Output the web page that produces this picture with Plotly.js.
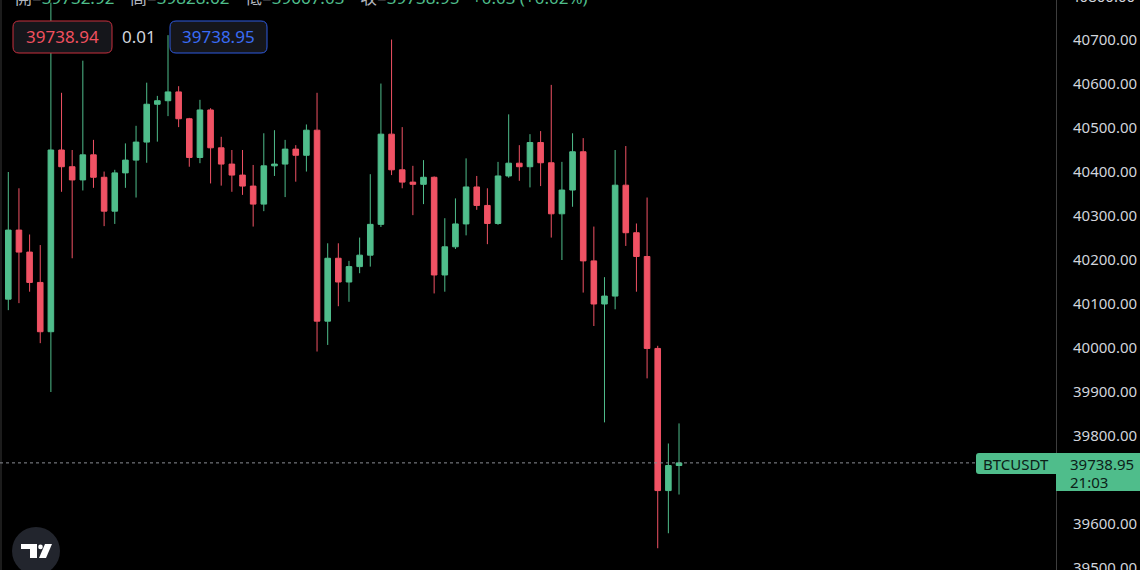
<!DOCTYPE html>
<html><head><meta charset="utf-8">
<script src="https://cdn.plot.ly/plotly-3.0.1.min.js"></script>
<style>html,body{margin:0;padding:0;background:#000;overflow:hidden}</style>
</head><body><div id="chart" style="width:1140px;height:570px"></div>
<script>
// ---- data ----
const opens  = [40111,40268,40218,40149,40037,40450,40412,40382,40439,40388,40311,40398,40427,40468,40554,40562,40582,40521,40433,40541,40455,40418,40393,40368,40327,40414,40418,40452,40438,40495,40061,40204,40150,40185,40211,40281,40486,40405,40377,40372,40388,40166,40230,40282,40366,40324,40283,40391,40420,40412,40467,40421,40305,40359,40446,40198,40100,40118,40370,40262,40208,39999,39676,39732.92];
const highs  = [40400,40363,40258,40234,40785,40580,40450,40653,40473,40401,40405,40465,40505,40603,40573,40711,40595,40523,40564,40545,40480,40450,40450,40416,40488,40495,40473,40461,40508,40580,40238,40238,40198,40251,40395,40601,40701,40502,40414,40427,40390,40295,40340,40431,40391,40363,40423,40531,40461,40486,40493,40598,40423,40488,40477,40276,40161,40450,40459,40283,40342,40005,39783,39828.62];
const lows   = [40086,40102,40128,40011,39900,40355,40204,40358,40364,40277,40282,40364,40342,40421,40469,40527,40502,40412,40420,40374,40369,40355,40348,40276,40311,40391,40343,40378,40401,39992,40007,40095,40105,40170,40185,40275,40393,40363,40302,40327,40124,40128,40225,40256,40314,40236,40280,40387,40380,40365,40368,40251,40200,40321,40126,40050,39831,40088,40232,40128,39931,39545,39579,39667.03];
const closes = [40268,40218,40149,40037,40450,40412,40382,40439,40388,40311,40398,40427,40468,40554,40562,40582,40521,40433,40541,40455,40418,40393,40368,40327,40414,40418,40452,40438,40495,40061,40204,40150,40185,40211,40281,40486,40405,40377,40372,40388,40166,40230,40282,40366,40324,40283,40391,40420,40412,40467,40421,40305,40359,40446,40198,40100,40118,40370,40262,40208,39999,39676,39732.92,39738.95];
const yTicks = [39500,39600,39800,39900,40000,40100,40200,40300,40400,40500,40600,40700];
const yTickAbove = 40800;
const symbol = 'BTCUSDT';
const lastPrice = 39738.95;
const countdown = '21:03';
const bidPrice = 39738.94, askPrice = 39738.95, spread = 0.01;
const headerLabels = ['開','高','低','收'];
const headerValues = [39732.92, 39828.62, 39667.03, 39738.95];
const change = 0.03, changePct = 0.02;

// ---- style / geometry ----
const GREEN = '#4fbd8b', RED = '#f05264';
const PW = 1056, PH = 570;
const Y0 = 39495.5, Y1 = 40790.9;
const FONT = 'Noto Sans, Noto Sans CJK TC, sans-serif';
const px = x => x / PW, py = y => 1 - y / PH;
const P = (x, y) => `${px(x)},${py(y)}`;
function rr(x0, y0, x1, y1, r) {
  return `M${P(x0+r,y0)} L${P(x1-r,y0)} Q${P(x1,y0)} ${P(x1,y0+r)} L${P(x1,y1-r)} Q${P(x1,y1)} ${P(x1-r,y1)} L${P(x0+r,y1)} Q${P(x0,y1)} ${P(x0,y1-r)} L${P(x0,y0+r)} Q${P(x0,y0)} ${P(x0+r,y0)} Z`;
}
const idx = opens.map((_, i) => i);

const trace = {
  type: 'candlestick', x: idx, open: opens, high: highs, low: lows, close: closes,
  increasing: {line: {color: GREEN, width: 1}, fillcolor: GREEN},
  decreasing: {line: {color: RED, width: 1}, fillcolor: RED},
  whiskerwidth: 0, hoverinfo: 'skip', showlegend: false
};

const shapes = [
  {type:'line', xref:'paper', yref:'paper', x0:px(1), x1:px(1), y0:0, y1:1, line:{color:'#1c1c1c', width:2}},
  {type:'line', xref:'paper', yref:'y', x0:0, x1:px(976), y0:lastPrice, y1:lastPrice, line:{color:'#8a8d94', width:1, dash:'dot'}},
  {type:'path', xref:'paper', yref:'paper', layer:'above', path:rr(13,21,112,53,6), fillcolor:'#15161b', line:{color:'#c8303f', width:1}},
  {type:'path', xref:'paper', yref:'paper', layer:'above', path:rr(170,21,267,53,6), fillcolor:'#15161b', line:{color:'#2f5be0', width:1}},
  {type:'path', xref:'paper', yref:'paper', layer:'above', path:`M${P(979,453)} L${P(1056,453)} L${P(1056,474)} L${P(979,474)} Q${P(976,474)} ${P(976,471)} L${P(976,456)} Q${P(976,453)} ${P(979,453)} Z`, fillcolor:GREEN, line:{width:0}},
  {type:'rect', xref:'paper', yref:'paper', layer:'above', x0:px(1056), x1:px(1140), y0:py(491), y1:py(453), fillcolor:GREEN, line:{width:0}},
  {type:'circle', xref:'paper', yref:'paper', layer:'above', x0:px(12), x1:px(60), y0:py(575), y1:py(527), fillcolor:'#22252d', line:{width:0}},
  {type:'path', xref:'paper', yref:'paper', layer:'above', path:`M${P(21,544)} L${P(37,544)} L${P(37,558)} L${P(30,558)} L${P(30,549)} L${P(21,549)} Z`, fillcolor:'#ffffff', line:{width:0}},
  {type:'circle', xref:'paper', yref:'paper', layer:'above', x0:px(38.2), x1:px(42.8), y0:py(549.2), y1:py(544.6), fillcolor:'#ffffff', line:{width:0}},
  {type:'path', xref:'paper', yref:'paper', layer:'above', path:`M${P(45,544)} L${P(52,544)} L${P(46,558)} L${P(39,558)} Z`, fillcolor:'#ffffff', line:{width:0}}
];

const ann = (x, y, text, size, color, anchor) => ({
  xref:'paper', yref:'paper', x:px(x), y:py(y), text, showarrow:false,
  xanchor: anchor || 'left', yanchor:'middle', font:{family:FONT, size, color}
});
const gray = '#b2b5be';
const headerX = [13, 128, 243, 358];
const annotations = headerLabels.map((l, i) =>
  ann(headerX[i], -2, `<span style="color:${gray}">${l}=</span>${headerValues[i].toFixed(2)}`, 17, GREEN));
annotations.push(ann(470, -2, `+${change.toFixed(2)} (+${changePct.toFixed(2)}%)`, 17, GREEN));
annotations.push(ann(62.5, 37, bidPrice.toFixed(2), 17, '#f0505f', 'center'));
annotations.push(ann(139, 37, spread.toFixed(2), 17, '#d1d4dc', 'center'));
annotations.push(ann(218.5, 37, askPrice.toFixed(2), 17, '#3a6cf4', 'center'));
annotations.push(ann(1016, 463.5, symbol, 15, '#0c2118', 'center'));
annotations.push(ann(1068, 463.5, lastPrice.toFixed(2), 15, '#0c2118'));
annotations.push(ann(1068, 482, countdown, 15, '#0c2118'));
// tick label just above the visible range (partly cut at the top edge), placed on the axis scale
const yTickAbovePx = (Y1 - yTickAbove) / (Y1 - Y0) * PH;
annotations.push(ann(1069, yTickAbovePx, yTickAbove.toFixed(2), 15, '#d1d4dc'));

const layout = {
  width: 1140, height: 570,
  margin: {l: 0, r: 84, t: 0, b: 0},
  paper_bgcolor: '#000', plot_bgcolor: '#000',
  showlegend: false, hovermode: false, boxgap: 0.25,
  xaxis: {range: [-0.78, 98.41], visible: false, rangeslider: {visible: false}, fixedrange: true},
  yaxis: {side: 'right', range: [Y0, Y1], tickvals: yTicks, tickformat: '.2f',
          showgrid: false, zeroline: false, showline: true, linecolor: '#3d3d3d', linewidth: 1,
          ticks: '', ticklabelstandoff: 13, automargin: false, ticklabeloverflow: 'allow',
          tickfont: {family: FONT, size: 15, color: '#d1d4dc'}},
  shapes, annotations
};
Plotly.newPlot('chart', [trace], layout, {staticPlot: true, displayModeBar: false});
</script>
</body></html>
